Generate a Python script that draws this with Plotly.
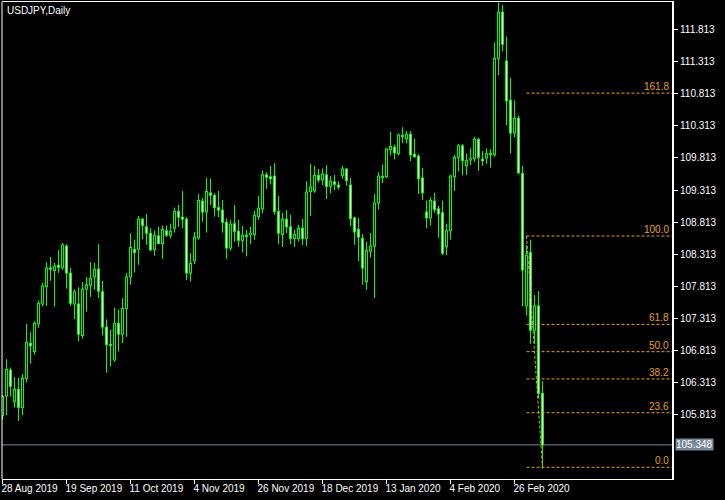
import pandas as pd
import plotly.graph_objects as go

# ---------------- data ----------------
holidays = ["2019-12-25", "2020-01-01"]
dates = [d.strftime("%Y-%m-%d") for d in pd.bdate_range("2019-08-28", "2020-03-06")
         if d.strftime("%Y-%m-%d") not in holidays]

opens = [105.80, 106.11, 106.51, 106.02, 106.21, 105.93, 106.38, 106.93, 106.80, 107.23,
         107.54, 107.81, 108.10, 108.06, 108.14, 108.11, 108.44, 108.02, 107.54, 107.54,
         107.05, 107.77, 107.83, 107.96, 108.08, 107.73, 107.18, 106.90, 106.67, 107.24,
         107.07, 107.47, 107.96, 108.39, 108.39, 108.86, 108.74, 108.64, 108.39, 108.60,
         108.48, 108.68, 108.61, 108.72, 108.98, 108.89, 108.86, 108.02, 108.21, 108.57,
         109.14, 108.97, 109.27, 109.23, 109.04, 109.00, 108.81, 108.41, 108.79, 108.67,
         108.53, 108.60, 108.62, 108.62, 108.90, 109.02, 109.55, 109.52, 109.53, 108.98,
         108.62, 108.86, 108.74, 108.56, 108.56, 108.72, 108.56, 109.29, 109.30, 109.54,
         109.47, 109.55, 109.37, 109.44, 109.39, 109.54, 109.64, 109.39, 108.88, 108.70,
         108.56, 107.89, 108.36, 108.44, 109.11, 109.52, 109.52, 109.94, 109.98, 109.88,
         110.16, 110.11, 110.18, 109.87, 109.84, 109.50, 108.97, 108.88, 109.14, 109.02,
         108.96, 108.43, 108.68, 109.52, 109.82, 110.00, 109.69, 109.78, 109.80, 110.10,
         109.79, 109.81, 109.87, 109.86, 111.36, 112.08, 111.32, 110.71, 110.20, 110.43,
         109.57, 107.51, 108.34, 107.13, 107.51, 106.15]
highs = [106.12, 106.68, 106.55, 106.40, 106.39, 106.45, 107.23, 107.10, 107.27, 107.59,
         107.87, 108.19, 108.27, 108.18, 108.38, 108.49, 108.47, 108.10, 107.77, 107.80,
         107.88, 107.96, 108.19, 108.18, 108.47, 107.90, 107.30, 107.14, 107.48, 107.45,
         107.63, 108.02, 108.64, 108.54, 108.91, 108.88, 108.94, 108.72, 108.68, 108.74,
         108.76, 108.76, 108.79, 109.04, 109.08, 109.30, 108.89, 108.33, 108.66, 109.25,
         109.19, 109.50, 109.49, 109.26, 109.30, 109.16, 108.87, 108.85, 109.08, 108.85,
         108.75, 108.69, 108.74, 108.99, 109.22, 109.62, 109.59, 109.69, 109.73, 109.22,
         108.96, 109.00, 108.93, 108.69, 108.77, 108.86, 109.45, 109.72, 109.69, 109.64,
         109.65, 109.70, 109.53, 109.55, 109.45, 109.69, 109.65, 109.50, 108.90, 108.88,
         108.63, 108.51, 108.64, 109.25, 109.59, 109.71, 109.96, 110.22, 110.02, 110.19,
         110.29, 110.23, 110.23, 110.11, 109.87, 109.66, 109.15, 109.20, 109.27, 109.07,
         109.15, 108.79, 109.55, 109.86, 110.03, 110.03, 109.88, 109.96, 110.14, 110.12,
         109.92, 109.96, 109.95, 111.61, 112.23, 112.19, 111.70, 111.06, 110.71, 110.47,
         109.69, 108.46, 108.54, 107.68, 107.74, 106.34]
lows = [105.74, 105.81, 106.10, 105.93, 105.72, 105.81, 106.32, 106.61, 106.75, 107.17,
        107.50, 107.51, 107.90, 107.50, 108.02, 108.07, 107.78, 107.51, 107.31, 106.96,
        107.00, 107.42, 107.65, 107.76, 107.63, 107.05, 106.47, 106.57, 106.64, 106.80,
        106.93, 107.03, 107.84, 108.03, 108.15, 108.55, 108.46, 108.36, 108.29, 108.47,
        108.24, 108.58, 108.56, 108.65, 108.74, 108.72, 107.91, 107.89, 108.16, 108.54,
        108.82, 108.65, 109.08, 108.90, 108.89, 108.65, 108.24, 108.37, 108.51, 108.43,
        108.34, 108.28, 108.47, 108.54, 108.85, 108.95, 109.33, 109.40, 108.93, 108.47,
        108.43, 108.64, 108.47, 108.43, 108.51, 108.46, 108.44, 108.91, 109.27, 109.43,
        109.39, 109.17, 109.26, 109.31, 109.32, 109.49, 109.38, 108.75, 108.46, 108.21,
        107.84, 107.76, 108.26, 107.63, 109.01, 109.42, 109.50, 109.85, 109.79, 109.85,
        110.04, 110.04, 109.76, 109.82, 109.25, 109.16, 108.72, 108.76, 108.96, 108.57,
        108.30, 108.30, 108.54, 109.30, 109.60, 109.54, 109.55, 109.70, 109.75, 109.61,
        109.69, 109.72, 109.66, 109.83, 111.10, 111.47, 110.32, 109.88, 110.13, 109.56,
        107.50, 107.36, 106.92, 106.92, 106.07, 104.98]
closes = [106.10, 106.52, 106.26, 106.21, 105.93, 106.38, 106.94, 106.89, 107.24, 107.55,
          107.82, 108.10, 108.08, 108.13, 108.11, 108.46, 108.02, 107.55, 107.73, 107.07,
          107.77, 107.84, 107.94, 108.08, 107.74, 107.18, 106.91, 106.91, 107.24, 107.07,
          107.47, 107.96, 108.42, 108.34, 108.86, 108.76, 108.64, 108.38, 108.61, 108.48,
          108.70, 108.61, 108.67, 108.98, 108.89, 108.86, 108.02, 108.17, 108.58, 109.15,
          108.97, 109.29, 109.23, 109.04, 109.00, 108.81, 108.41, 108.78, 108.67, 108.53,
          108.61, 108.61, 108.64, 108.92, 109.03, 109.55, 109.51, 109.49, 108.98, 108.64,
          108.86, 108.74, 108.56, 108.62, 108.72, 108.56, 109.28, 109.36, 109.54, 109.47,
          109.56, 109.37, 109.45, 109.40, 109.36, 109.64, 109.46, 108.87, 108.66, 108.58,
          108.10, 108.37, 108.44, 109.11, 109.53, 109.51, 109.95, 109.99, 109.89, 110.17,
          110.15, 110.18, 109.86, 109.83, 109.49, 109.27, 108.88, 109.15, 109.01, 108.94,
          108.33, 108.68, 109.53, 109.82, 110.00, 109.77, 109.77, 109.80, 110.10, 109.82,
          109.77, 109.88, 109.87, 111.36, 112.08, 111.58, 110.70, 110.20, 110.43, 109.58,
          108.07, 108.30, 107.13, 107.51, 106.15, 105.348]

tick_positions = [0, 16, 32, 48, 64, 80, 96, 112, 128]
tick_labels = ["28 Aug 2019", "19 Sep 2019", "11 Oct 2019", "4 Nov 2019", "26 Nov 2019",
               "18 Dec 2019", "13 Jan 2020", "4 Feb 2020", "26 Feb 2020"]
price_ticks = [105.813, 106.313, 106.813, 107.313, 107.813, 108.313, 108.813,
               109.313, 109.813, 110.313, 110.813, 111.313, 111.813]

fib_high = 108.597
fib_low = 104.999
fib_levels = [0.0, 23.6, 38.2, 50.0, 61.8, 100.0, 161.8]
fib_start_bar = 131
fib_end_bar = 135
bid_price = 105.348
title_text = "USDJPY,Daily"

# ---------------- style ----------------
FONT = "Liberation Sans, Arial, sans-serif"
GREEN = "#00FF00"
FIB = "#E6A022"
BIDC = "#778899"
W, H = 725, 500
M = dict(l=2, r=53, t=2, b=21)
X_RANGE = [-0.125, 167.375]
Y_RANGE = [104.817, 112.238]
PX = (Y_RANGE[1] - Y_RANGE[0]) / (H - M["t"] - M["b"])   # one pixel in price units

fig = go.Figure()

# wicks: upper and lower parts (not crossing the bodies)
wick_x, wick_y = [], []
for d, o, h, l, c in zip(dates, opens, highs, lows, closes):
    top, bot = max(o, c), min(o, c)
    wick_x += [d, d, None, d, d, None]
    wick_y += [top, h, None, l, bot, None]
fig.add_trace(go.Scatter(x=wick_x, y=wick_y, mode="lines", line=dict(color=GREEN, width=1),
                         hoverinfo="skip", showlegend=False))

# bodies: green outline (outer bar) + fill (inner bar): bull = black, bear = white
n = len(dates)
fig.add_trace(go.Bar(
    x=dates,
    base=[min(opens[i], closes[i]) - PX / 2 for i in range(n)],
    y=[abs(closes[i] - opens[i]) + PX for i in range(n)],
    width=0.75, marker=dict(color=GREEN, line=dict(width=0)),
    hoverinfo="skip", showlegend=False,
))
for want_bull, fill in ((True, "black"), (False, "white")):
    sel = [i for i in range(n)
           if ((closes[i] >= opens[i]) == want_bull) and abs(closes[i] - opens[i]) > PX]
    fig.add_trace(go.Bar(
        x=[dates[i] for i in sel],
        base=[min(opens[i], closes[i]) + PX / 2 for i in sel],
        y=[abs(closes[i] - opens[i]) - PX for i in sel],
        width=0.25, marker=dict(color=fill, line=dict(width=0)),
        hoverinfo="skip", showlegend=False,
    ))

shapes = []
# bid line
shapes.append(dict(type="line", xref="paper", yref="y", x0=0, x1=1, y0=bid_price, y1=bid_price,
                   line=dict(color=BIDC, width=1), layer="below"))
# fibonacci levels
annotations = []
for lv in fib_levels:
    p = fib_low + (fib_high - fib_low) * lv / 100.0
    shapes.append(dict(type="line", xref="x", yref="y", x0=fib_start_bar, x1=X_RANGE[1],
                       y0=p, y1=p, line=dict(color=FIB, width=1, dash="3px,2px")))
    annotations.append(dict(xref="paper", yref="y", x=1, y=p, xanchor="right", yanchor="bottom",
                            xshift=-1, yshift=-1, text=f"{lv:.1f}", showarrow=False,
                            font=dict(family=FONT, size=10, color=FIB)))
# fibo trend line
shapes.append(dict(type="line", xref="x", yref="y", x0=fib_start_bar, x1=fib_end_bar,
                   y0=fib_high, y1=fib_low, line=dict(color=FIB, width=1, dash="3px,2px")))
# left border
shapes.append(dict(type="line", xref="paper", yref="paper", x0=0, x1=0, y0=0, y1=1,
                   line=dict(color="white", width=1)))

annotations.append(dict(xref="paper", yref="y", x=1, y=bid_price, xanchor="left", yanchor="middle",
                        xshift=3, text=f"{bid_price:.3f}", showarrow=False, bgcolor=BIDC,
                        borderpad=0, font=dict(family=FONT, size=10, color="white")))
annotations.append(dict(xref="paper", yref="paper", x=0, y=1, xanchor="left", yanchor="top",
                        xshift=3, yshift=-1, text=title_text, showarrow=False,
                        font=dict(family=FONT, size=10, color="white")))

fig.update_layout(
    width=W, height=H,
    margin=dict(**M, pad=0, autoexpand=False),
    paper_bgcolor="black", plot_bgcolor="black",
    showlegend=False, barmode="overlay",
    shapes=shapes, annotations=annotations,
    font=dict(family=FONT, size=10, color="white"),
    xaxis=dict(type="category", range=X_RANGE, categoryorder="array", categoryarray=dates,
               tickmode="array", tickvals=[dates[i] for i in tick_positions], ticktext=tick_labels,
               ticks="outside", ticklen=4, tickcolor="white", tickwidth=1, tickangle=0,
               ticklabelposition="outside right", ticklabelshift=-2, automargin=False,
               showline=True, linecolor="white", linewidth=1, mirror=True,
               showgrid=False, zeroline=False,
               tickfont=dict(family=FONT, size=10, color="white")),
    yaxis=dict(side="right", range=Y_RANGE, tickmode="array", tickvals=price_ticks,
               ticktext=[f"{v:.3f}" for v in price_ticks], automargin=False,
               ticks="outside", ticklen=4, tickcolor="white", tickwidth=1,
               showline=True, linecolor="white", linewidth=2, mirror=False,
               showgrid=False, zeroline=False,
               tickfont=dict(family=FONT, size=10, color="white")),
)

fig.write_html("out.html", config={"displayModeBar": False},
               post_script="document.body.style.margin='0';")
